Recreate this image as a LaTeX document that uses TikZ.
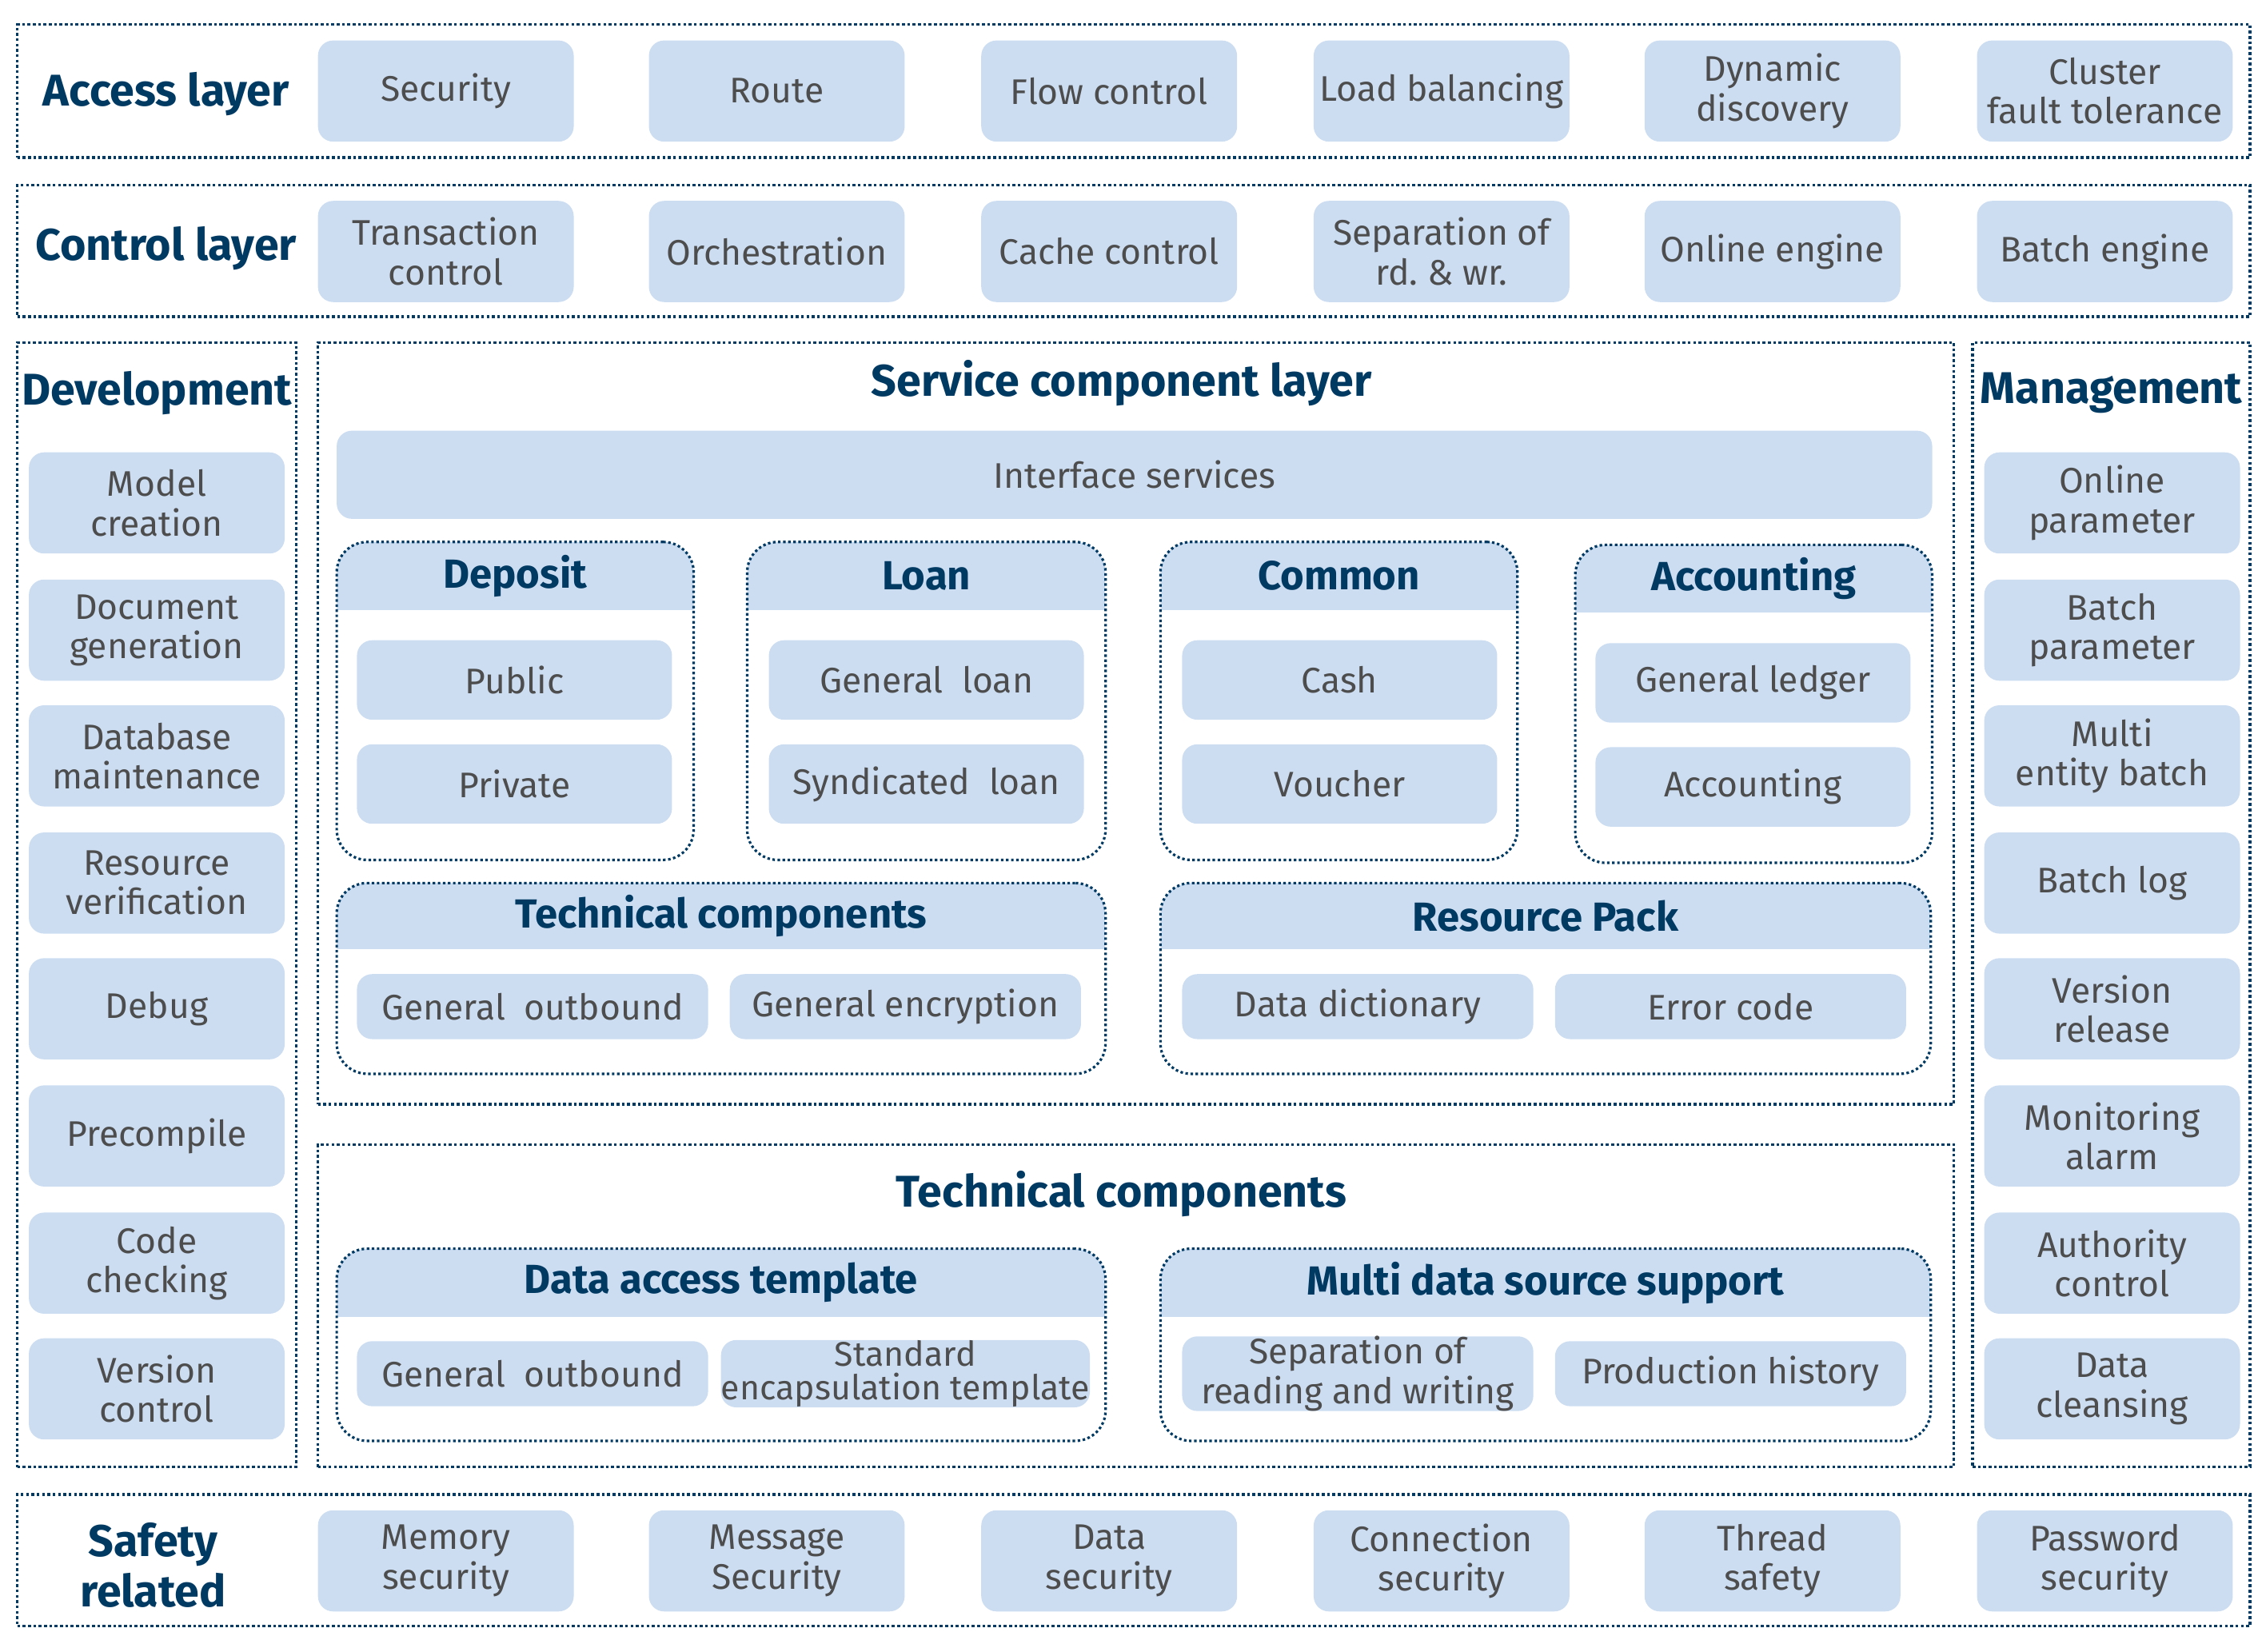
\documentclass[tikz,border=0pt]{standalone}
\usepackage{fontspec}
\setmainfont{Fira Sans}
\begin{document}
\definecolor{bfill}{HTML}{CCDDF2}
\definecolor{ttl}{HTML}{003A63}
\definecolor{txt}{HTML}{4D4D4D}
\tikzset{
 box/.style={fill=bfill,rounded corners=6pt,inner sep=0pt,align=center,text=txt,font=\fontsize{14}{15.5}\selectfont},
 frame/.style={draw=ttl,densely dotted,line width=1.1pt},
 grp/.style={draw=ttl,densely dotted,line width=1pt,rounded corners=12pt},
 ttlf/.style={text=ttl,font=\bfseries\fontsize{16}{18}\selectfont,align=center},
 bigt/.style={text=ttl,font=\bfseries\fontsize{17.5}{20}\selectfont,align=center},
}
\newcommand{\bx}[6]{\node[box,minimum width={(#4-#2)*0.02cm},minimum height={(#5-#3)*0.02cm}] (#1) at ({(#2+#4)/2},{(#3+#5)/2}) {#6};}
\newcommand{\grpbox}[7]{% name x1 y1 x2 y2 headery title
 \begin{scope}\clip[rounded corners=12pt] (#2,#3) rectangle (#4,#5);
 \fill[bfill] (#2,#3) rectangle (#4,#6);\end{scope}
 \node[grp,minimum width={(#4-#2)*0.02cm},minimum height={(#5-#3)*0.02cm},inner sep=0pt] (#1) at ({(#2+#4)/2},{(#3+#5)/2}) {};
 \node[ttlf] (#1t) at ({(#2+#4)/2},{(#3+#6)/2}) {#7};}
\begin{tikzpicture}[x=0.02cm,y=-0.02cm]
\useasboundingbox (0,0) rectangle (1568,1143);
% Access
\node[frame,minimum width={1545*0.02cm},minimum height={92*0.02cm},inner sep=0pt] (acc) at (784.5,63) {};
\node[bigt] (acct) at (115,65) {Access layer};
\foreach \x/\t [count=\i] in {220/Security,449/Route,679/Flow control,909/Load balancing,1138/{Dynamic\\discovery},1368/{Cluster\\fault tolerance}}
 {\bx{a\i}{\x}{28}{\x+177}{98}{\t}}
% Control
\node[frame,minimum width={1545*0.02cm},minimum height={91*0.02cm},inner sep=0pt] (ctl) at (784.5,173.5) {};
\node[bigt] (ctlt) at (115,172) {Control layer};
\foreach \x/\t [count=\i] in {220/{Transaction\\control},449/Orchestration,679/Cache control,909/{Separation of\\rd.\ \& wr.},1138/Online engine,1368/Batch engine}
 {\bx{c\i}{\x}{139}{\x+177}{209}{\t}}
% Safety
\node[frame,minimum width={1545*0.02cm},minimum height={91*0.02cm},inner sep=0pt] (saf) at (784.5,1079.5) {};
\node[bigt] (saft) at (106,1083) {Safety\\related};
\foreach \x/\t [count=\i] in {220/{Memory\\security},449/{Message\\Security},679/{Data\\security},909/{Connection\\security},1138/{Thread\\safety},1368/{Password\\security}}
 {\bx{s\i}{\x}{1045}{\x+177}{1115}{\t}}
% Development
\node[frame,minimum width={193*0.02cm},minimum height={778*0.02cm},inner sep=0pt] (dev) at (108.5,626) {};
\node[bigt] (devt) at (108.5,272) {Development};
\foreach \y/\t [count=\i] in {313/{Model\\creation},401/{Document\\generation},488/{Database\\maintenance},576/{Resource\\verification},663/Debug,751/Precompile,839/{Code\\checking},926/{Version\\control}}
 {\bx{d\i}{20}{\y}{197}{\y+70}{\t}}
% Management
\node[frame,minimum width={192*0.02cm},minimum height={778*0.02cm},inner sep=0pt] (man) at (1461,626) {};
\node[bigt] (mant) at (1461,272) {Management};
\foreach \y/\t [count=\i] in {313/{Online\\parameter},401/{Batch\\parameter},488/{Multi\\entity batch},576/Batch log,663/{Version\\release},751/{Monitoring\\alarm},839/{Authority\\control},926/{Data\\cleansing}}
 {\bx{m\i}{1373}{\y}{1550}{\y+70}{\t}}
% Service component layer
\node[frame,minimum width={1132*0.02cm},minimum height={527*0.02cm},inner sep=0pt] (scl) at (786,500.5) {};
\node[bigt] (sclt) at (776,265) {Service component layer};
\bx{ifs}{233}{298}{1337}{359}{Interface services}
\grpbox{dep}{233}{375}{480}{595}{422}{Deposit}
\bx{dep1}{247}{443}{465}{498}{Public}
\bx{dep2}{247}{515}{465}{570}{Private}
\grpbox{loan}{517}{375}{765}{595}{422}{Loan}
\bx{loan1}{532}{443}{750}{498}{General\ \ loan}
\bx{loan2}{532}{515}{750}{570}{Syndicated\ \ loan}
\grpbox{com}{803}{375}{1050}{595}{422}{Common}
\bx{com1}{818}{443}{1036}{498}{Cash}
\bx{com2}{818}{515}{1036}{570}{Voucher}
\grpbox{acn}{1090}{377}{1337}{597}{424}{Accounting}
\bx{acn1}{1104}{445}{1322}{500}{General ledger}
\bx{acn2}{1104}{517}{1322}{572}{Accounting}
\grpbox{tc}{233}{611}{765}{743}{657}{Technical components}
\bx{tc1}{247}{674}{490}{719}{General\ \ outbound}
\bx{tc2}{505}{674}{748}{719}{General encryption}
\grpbox{rp}{803}{611}{1336}{743}{657}{Resource Pack}
\bx{rp1}{818}{674}{1061}{719}{Data dictionary}
\bx{rp2}{1076}{674}{1319}{719}{Error code}
% Technical components layer
\node[frame,minimum width={1132*0.02cm},minimum height={223*0.02cm},inner sep=0pt] (tcl) at (786,903.5) {};
\node[bigt] (tclt) at (776,826) {Technical components};
\grpbox{dat}{233}{864}{765}{997}{911}{Data access template}
\bx{dat1}{247}{928}{490}{973}{General\ \ outbound}
\bx{dat2}{505}{928}{748}{973}{\fontsize{13.5}{12}\selectfont Standard\\[-2pt]\fontsize{13.5}{12}\selectfont encapsulation template}
\grpbox{mds}{803}{864}{1336}{997}{911}{Multi data source support}
\bx{mds1}{818}{928}{1061}{973}{Separation of\\reading and writing}
\bx{mds2}{1076}{928}{1319}{973}{Production history}
\end{tikzpicture}
\end{document}
